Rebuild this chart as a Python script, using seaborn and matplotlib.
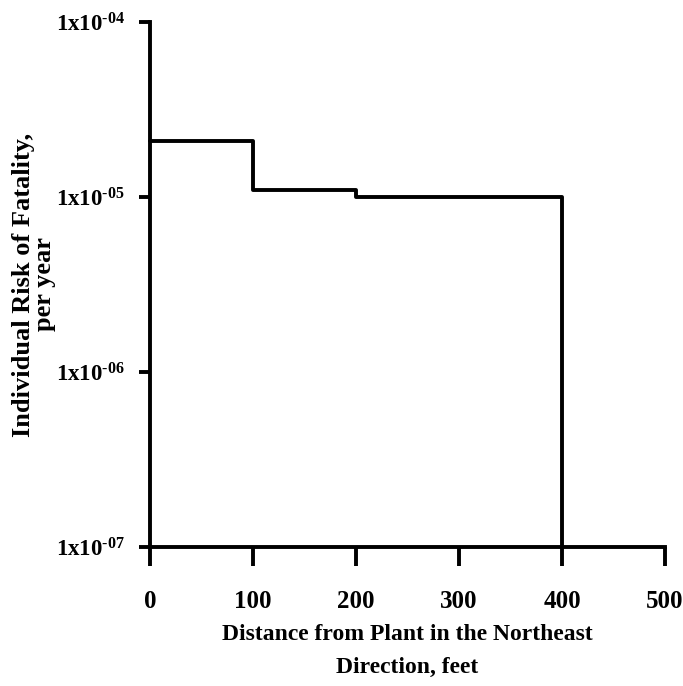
import numpy as np
import pandas as pd
import matplotlib
matplotlib.use("Agg")
import matplotlib.pyplot as plt
import matplotlib.ticker as mticker
import seaborn as sns

# Step profile of individual risk vs. distance
distance_ft = [0, 100, 200, 400]
risk_per_year = [2.1e-05, 1.1e-05, 1.0e-05, 1e-07]

x_ticks = [0, 100, 200, 300, 400, 500]
y_ticks = [1e-07, 1e-06, 1e-05, 1e-04]
y_tick_labels = [r"1x10$^{\text{-07}}$", r"1x10$^{\text{-06}}$",
                 r"1x10$^{\text{-05}}$", r"1x10$^{\text{-04}}$"]

sns.set_style("ticks")
plt.rcParams['font.family'] = ['Liberation Serif', 'DejaVu Serif']
plt.rcParams['font.weight'] = 'bold'
plt.rcParams['mathtext.fontset'] = 'custom'
plt.rcParams['mathtext.rm'] = 'Liberation Serif:bold'
plt.rcParams['mathtext.it'] = 'Liberation Serif:bold'
plt.rcParams['mathtext.bf'] = 'Liberation Serif:bold'
for key in ['text.color', 'axes.labelcolor', 'xtick.color', 'ytick.color', 'axes.edgecolor']:
    plt.rcParams[key] = 'black'

df = pd.DataFrame({"distance": distance_ft, "risk": risk_per_year})

fig = plt.figure(figsize=(6.83, 6.86), dpi=100)
ax = fig.add_axes([0.2196, 0.2026, 0.7540, 0.7654])

sns.lineplot(data=df, x="distance", y="risk", drawstyle="steps-post",
             color="black", linewidth=2.8, ax=ax, clip_on=False)

ax.set_yscale("log")
ax.set_xlim(0, 500)
ax.set_ylim(1e-07, 1e-04)
ax.set_xticks(x_ticks)
ax.set_xticklabels([str(t) for t in x_ticks], fontsize=18, fontweight='bold')
ax.set_yticks(y_ticks)
ax.set_yticklabels(y_tick_labels, fontsize=16.5)
ax.yaxis.set_minor_locator(mticker.NullLocator())

for side in ["top", "right"]:
    ax.spines[side].set_visible(False)
for side in ["left", "bottom"]:
    ax.spines[side].set_linewidth(2.8)

ax.tick_params(axis="x", direction="out", length=14, width=2.8, pad=17)
ax.tick_params(axis="y", direction="out", length=8, width=2.8, pad=10)

ax.set_xlabel("Distance from Plant in the Northeast\nDirection, feet",
              fontsize=17, fontweight='bold', linespacing=1.75)
ax.xaxis.set_label_coords(0.5, -0.147)

ax.set_ylabel("Individual Risk of Fatality,\nper year",
              fontsize=19, fontweight='bold', linespacing=0.9)
ax.yaxis.set_label_coords(-0.182, 0.5)

fig.savefig("out.png", dpi=100, facecolor="white")
